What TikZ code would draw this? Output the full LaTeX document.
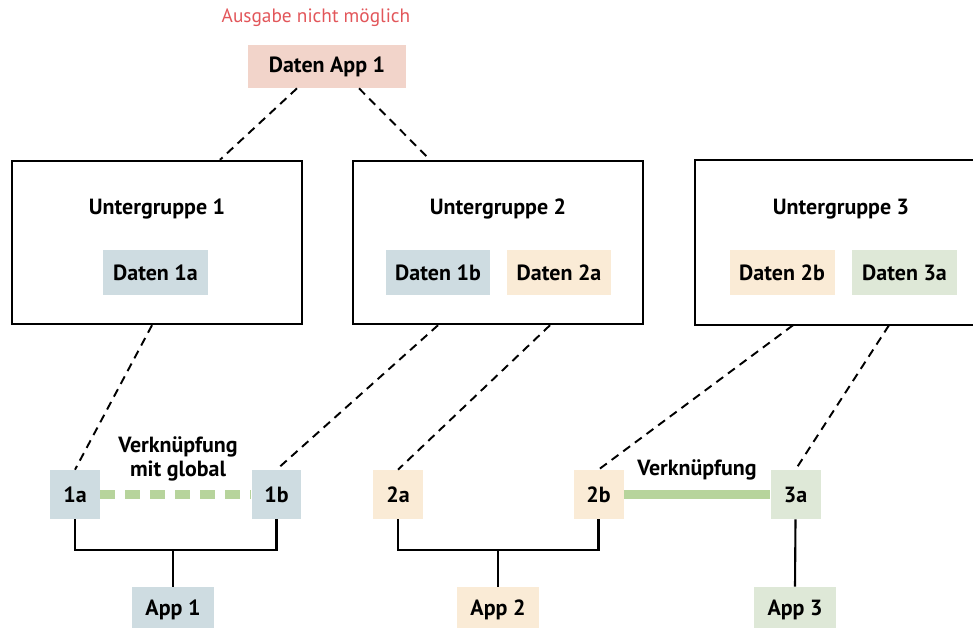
\documentclass[tikz,border=0pt]{standalone}
\usepackage{fontspec}
\setmainfont{PT Sans}
\usepackage{tikz}
\usetikzlibrary{calc}
\definecolor{rosa}{RGB}{242,212,202}
\definecolor{grau}{RGB}{206,220,225}
\definecolor{creme}{RGB}{250,235,214}
\definecolor{mint}{RGB}{222,232,215}
\definecolor{linkgruen}{RGB}{183,212,156}
\definecolor{warnrot}{RGB}{226,86,90}

\begin{document}
\begin{tikzpicture}[x=0.02cm, y=-0.02cm, font=\fontsize{12.5}{14}\selectfont\bfseries,
    feld/.style={fill=#1, minimum width=2.1cm, minimum height=0.9cm, inner sep=0pt},
    klein/.style={fill=#1, minimum width=1cm, minimum height=0.98cm, inner sep=0pt},
    app/.style={fill=#1, minimum width=1.64cm, minimum height=0.9cm, inner sep=0pt},
    gruppe/.style={draw, line width=1.4pt, minimum width=5.8cm, minimum height=3.26cm},
    strich/.style={line width=1.1pt, dash pattern=on 0.17cm off 0.12cm},
    baum/.style={line width=1.2pt}]
    \useasboundingbox (0,0) rectangle (973,627);

    % Oben: Daten App 1
    \node[text=warnrot, font=\fontsize{11}{13}\selectfont] (ausgabe) at (316,18) {Ausgabe nicht möglich};
    \node[feld=rosa, minimum width=3.16cm, minimum height=0.86cm] (dapp) at (327,66.5) {Daten App 1};

    % Untergruppen
    \node[gruppe] (ug1) at (157,242.5) {};
    \node[gruppe] (ug2) at (498,242.5) {};
    % Gruppe 3 geht rechts über den Rand hinaus
    \node[gruppe, draw=none, minimum width=6.6cm] (ug3) at (861,242.5) {};
    \draw[line width=1.4pt] (ug3.north east) -- (ug3.north west) -- (ug3.south west) -- (ug3.south east);
    \node (t1) at (157,209) {Untergruppe 1};
    \node (t2) at (498,209) {Untergruppe 2};
    \node (t3) at (841,209) {Untergruppe 3};
    \node[feld=grau] (d1a) at (155.5,272.5) {Daten 1a};
    \node[feld=grau] (d1b) at (438,272.5) {Daten 1b};
    \node[feld=creme] (d2a) at (559,272.5) {Daten 2a};
    \node[feld=creme] (d2b) at (782,272.5) {Daten 2b};
    \node[feld=mint] (d3a) at (904.5,272.5) {Daten 3a};

    % kleine Felder unten
    \node[klein=grau] (k1a) at (75,494.5) {1a};
    \node[klein=grau] (k1b) at (276.5,494.5) {1b};
    \node[klein=creme] (k2a) at (398,494.5) {2a};
    \node[klein=creme] (k2b) at (598.5,494.5) {2b};
    \node[klein=mint] (k3a) at (795.5,494.5) {3a};

    % Apps
    \node[app=grau] (app1) at (173,609.5) {App 1};
    \node[app=creme] (app2) at (498,609.5) {App 2};
    \node[app=mint] (app3) at (795,609.5) {App 3};

    % gestrichelte Verbindungen
    \draw[strich] ($(dapp.south)+(-30,0)$) -- ($(ug1.north)+(63,0)$);
    \draw[strich] ($(dapp.south)+(32,0)$) -- ($(ug2.north)+(-68,0)$);
    \draw[strich] ($(ug1.south)+(-5,0)$) -- (k1a.north);
    \draw[strich] ($(ug2.south)+(-60,0)$) -- (k1b.north);
    \draw[strich] ($(ug2.south)+(52,0)$) -- (k2a.north);
    \draw[strich] ($(ug3.south)+(-68,0)$) -- (k2b.north);
    \draw[strich] ($(ug3.south)+(28,0)$) -- (k3a.north);

    % Verknüpfungen
    \draw[linkgruen, line width=5.6pt, dash pattern=on 0.3cm off 0.2cm] (k1a.east) -- (k1b.west);
    \node[align=center, font=\fontsize{12.5}{13.5}\selectfont\bfseries] (vglobal) at (178,459) {Verknüpfung\\mit global};
    \draw[linkgruen, line width=5.6pt] (k2b.east) -- (k3a.west);
    \node (vlink) at (697,470) {Verknüpfung};

    % Baum zu den Apps
    \draw[baum] (k1a.south) |- (app1.north |- 0,550) -| (k1b.south);
    \draw[baum] (app1.north |- 0,550) -- (app1.north);
    \draw[baum] (k2a.south) |- (app2.north |- 0,550) -| (k2b.south);
    \draw[baum] (app2.north |- 0,550) -- (app2.north);
    \draw[baum] (k3a.south) -- (app3.north);
\end{tikzpicture}
\end{document}
